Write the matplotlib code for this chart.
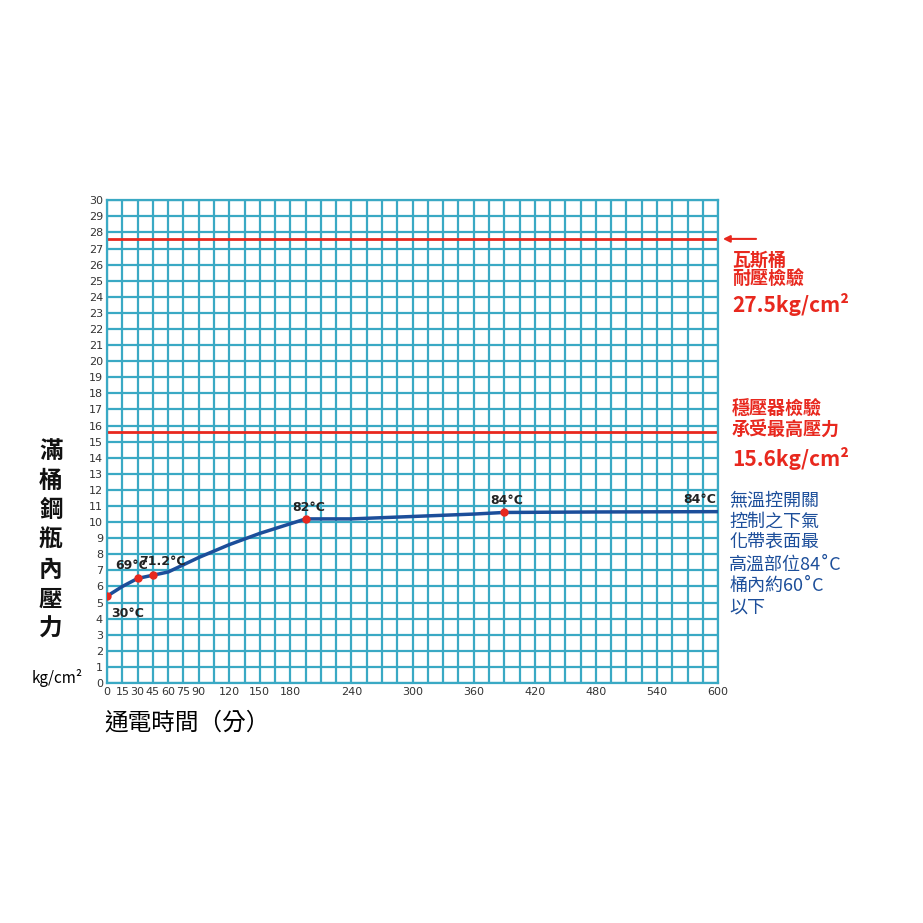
import numpy as np
import matplotlib.pyplot as plt
from matplotlib.ticker import MultipleLocator

plt.rcParams['font.family'] = ['Noto Sans CJK TC', 'DejaVu Sans']

# 曲線資料 (分鐘, kg/cm2)
minutes = [0, 15, 30, 45, 60, 75, 90, 120, 150, 180, 195, 240, 300, 360, 390, 480, 600]
pressure = [5.4, 6.0, 6.5, 6.7, 6.9, 7.35, 7.8, 8.6, 9.3, 9.9, 10.2, 10.2, 10.35, 10.5, 10.6, 10.63, 10.65]

point_x = [0, 30, 45, 195, 390]
point_y = [5.4, 6.5, 6.7, 10.2, 10.6]
point_labels = ['30°C', '69°C', '71.2°C', '82°C', '84°C']
label_offsets = [(3, -15), (-16, 7), (-10, 7), (-10, 6), (-10, 6)]

xtick_vals = [0, 15, 30, 45, 60, 75, 90, 120, 150, 180, 240, 300, 360, 420, 480, 540, 600]
limit_gas = 27.6
limit_reg = 15.6

fig = plt.figure(figsize=(9.23, 9.23), dpi=100)
ax = fig.add_axes([0.116, 0.260, 0.662, 0.523])
ax.set_xlim(0, 600)
ax.set_ylim(0, 30)
ax.xaxis.set_minor_locator(MultipleLocator(15))
ax.set_xticks(xtick_vals)
ax.set_xticklabels([str(v) for v in xtick_vals], fontsize=8, family='DejaVu Sans', color='#333333')
ax.set_yticks(range(0, 31))
ax.set_yticklabels([str(v) for v in range(0, 31)], fontsize=8, family='DejaVu Sans', color='#333333')
ax.tick_params(which='both', length=0, pad=3)
ax.grid(which='both', color='#3aa9c4', linewidth=1.6)
for s in ax.spines.values():
    s.set_color('#3aa9c4')
    s.set_linewidth(1.6)

red = '#e8281e'
blue = '#1c4e9a'
ax.axhline(limit_gas, color=red, lw=2)
ax.axhline(limit_reg, color=red, lw=2)
ax.annotate('', xy=(602, limit_gas), xytext=(640, limit_gas), annotation_clip=False,
            arrowprops=dict(arrowstyle='-|>', color=red, lw=1.5))

ax.plot(minutes, pressure, color=blue, lw=2.5, zorder=3)
ax.scatter(point_x, point_y, color=red, s=25, zorder=4)
for x, y, t, off in zip(point_x, point_y, point_labels, label_offsets):
    ax.annotate(t, (x, y), xytext=off, textcoords='offset points', fontsize=9,
                fontweight='bold', family='DejaVu Sans', color='#222222')
ax.annotate('84°C', (600, 10.65), xytext=(-25, 6), textcoords='offset points', fontsize=9,
            fontweight='bold', family='DejaVu Sans', color='#222222')

fig.text(0.793, 0.728, '瓦斯桶\n耐壓檢驗', color=red, fontsize=13, fontweight='bold',
         va='top', linespacing=1.0)
fig.text(0.793, 0.683, '27.5kg/cm²', color=red, fontsize=15, fontweight='bold', va='top')
fig.text(0.793, 0.567, '穩壓器檢驗\n承受最高壓力', color=red, fontsize=13, fontweight='bold',
         va='top', linespacing=1.05)
fig.text(0.793, 0.516, '15.6kg/cm²', color=red, fontsize=15, fontweight='bold', va='top')
fig.text(0.790, 0.468, '無溫控開關\n控制之下氣\n化帶表面最\n高溫部位84˚C\n桶內約60˚C\n以下',
         color=blue, fontsize=13, va='top', linespacing=1.25)

fig.text(0.055, 0.415, '滿\n桶\n鋼\n瓶\n內\n壓\n力', color='#111111', fontsize=17,
         fontweight='bold', ha='center', va='center', linespacing=1.3)
fig.text(0.062, 0.265, 'kg/cm²', fontsize=11, ha='center', va='center')
fig.text(0.113, 0.217, '通電時間（分）', fontsize=17, va='center')

fig.savefig('out.png', dpi=100, facecolor='white')
